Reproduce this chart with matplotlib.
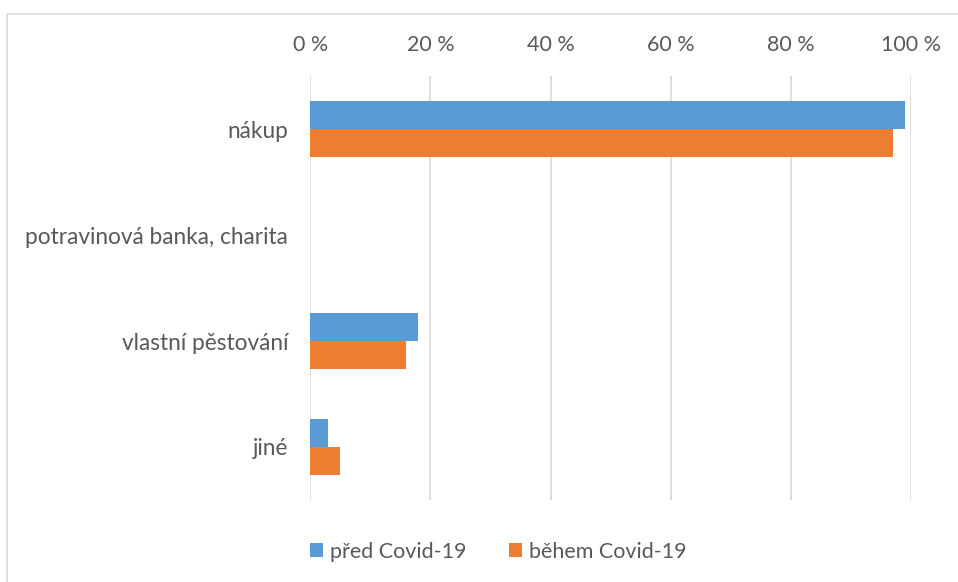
#
#   Imports
#

import numpy as np
import matplotlib
matplotlib.use("Agg")
import matplotlib.pyplot as plt
from matplotlib.patches import Rectangle

#
#   Data
#

categories = ["nákup", "potravinová banka, charita", "vlastní pěstování", "jiné"]
pred_covid = [99, 0, 18, 3]
behem_covid = [97, 0, 16, 5]
series_names = ["před Covid-19", "během Covid-19"]
tick_values = [0, 20, 40, 60, 80, 100]

#
#   Main
#

plt.rcParams["font.family"] = ["Lato", "DejaVu Sans"]
text_color = "#595959"

fig = plt.figure(figsize=(9.58, 5.82), dpi=100)
ax = fig.add_axes([0.3239, 0.1409, 0.6273, 0.7285])

y = np.arange(len(categories))
h = 0.26
ax.barh(y - h / 2, pred_covid, height=h, color="#5B9BD5", label=series_names[0], zorder=3)
ax.barh(y + h / 2, behem_covid, height=h, color="#ED7D31", label=series_names[1], zorder=3)

ax.set_ylim(len(categories) - 0.5, -0.5)
ax.set_xlim(0, 100)
ax.set_yticks(y)
ax.set_yticklabels(categories, fontsize=16.3, color=text_color)
ax.set_xticks(tick_values)
ax.set_xticklabels([f"{v} %" for v in tick_values], fontsize=15.5, color=text_color)
ax.xaxis.tick_top()
ax.tick_params(axis="both", length=0)
ax.tick_params(axis="x", pad=15)
ax.tick_params(axis="y", pad=16)
ax.grid(axis="x", color="#D9D9D9", linewidth=1.2, zorder=0)
for s in ax.spines.values():
    s.set_visible(False)

# Chart border
fig.patches.append(Rectangle((7 / 958, -0.1), 1.2, 1 - 14 / 582 + 0.1,
                             transform=fig.transFigure, fill=False,
                             edgecolor="#D9D9D9", linewidth=1.2))

fig.legend(loc="center", bbox_to_anchor=(0.52, 0.052), ncol=2, frameon=False,
           fontsize=15.5, handlelength=0.6, handleheight=0.6, handletextpad=0.3,
           columnspacing=2.0, labelcolor=text_color)

fig.savefig("out.png", dpi=100)
